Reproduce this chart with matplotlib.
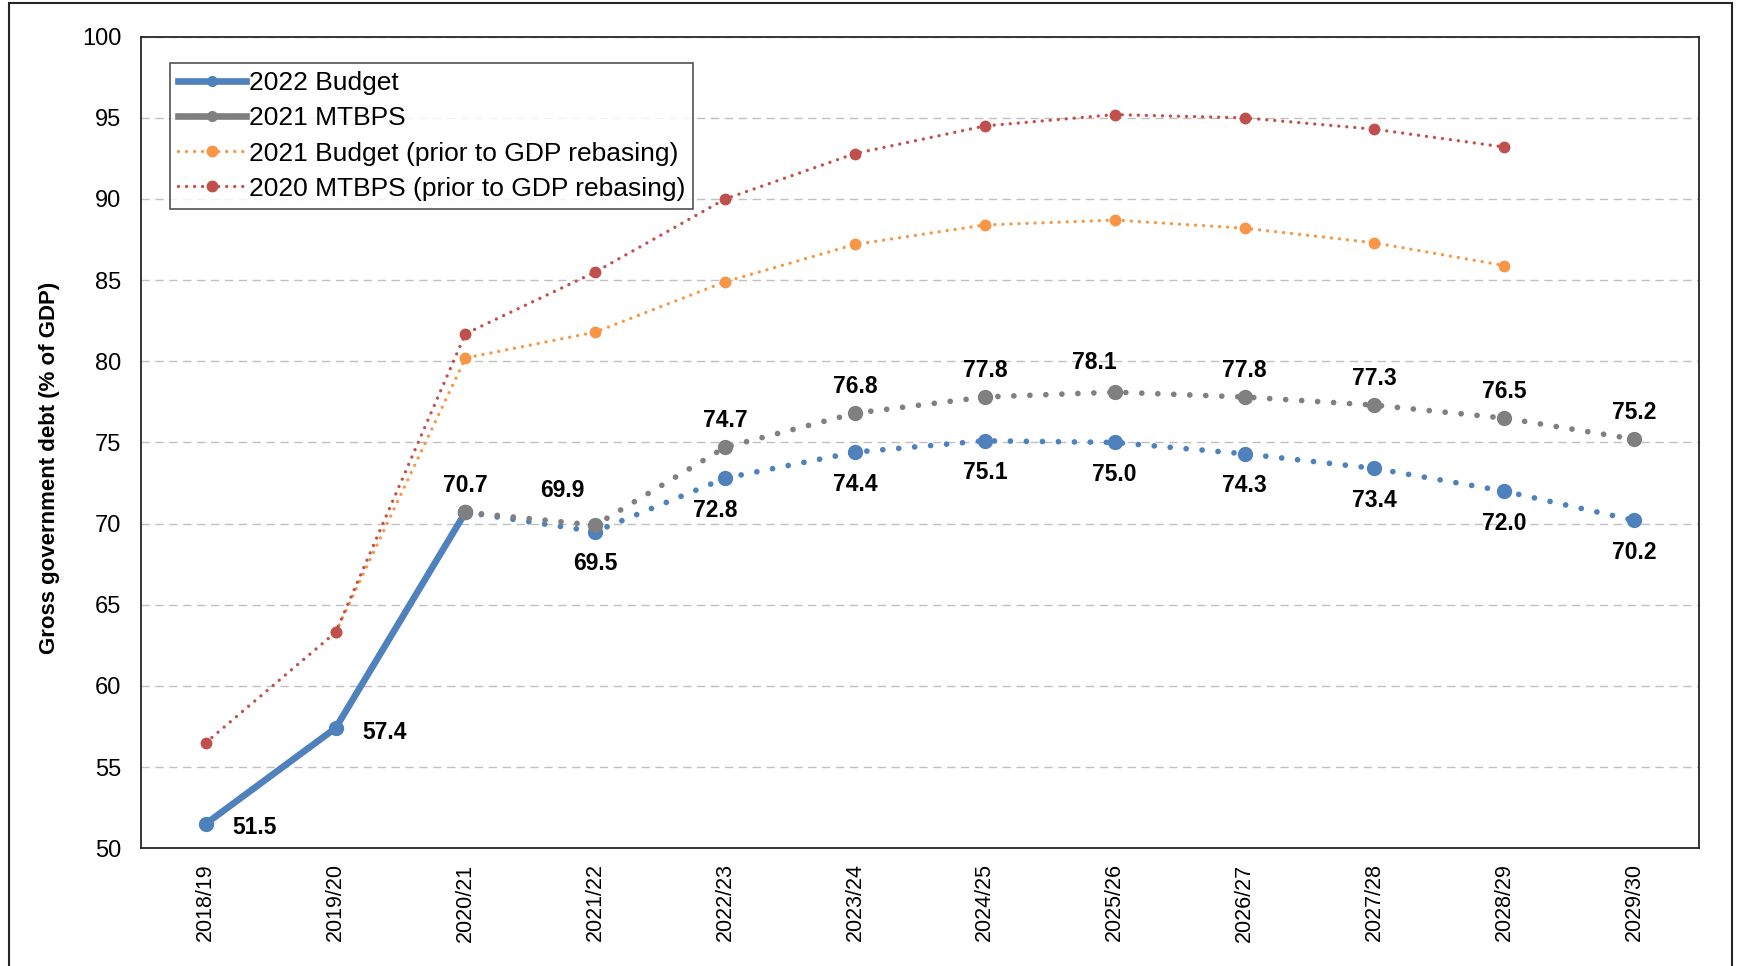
import matplotlib
matplotlib.use("Agg")
import matplotlib.pyplot as plt
from matplotlib.lines import Line2D
from matplotlib.patches import Rectangle
import numpy as np

plt.rcParams["font.family"] = ["Liberation Sans", "DejaVu Sans"]

years = ["2018/19", "2019/20", "2020/21", "2021/22", "2022/23", "2023/24",
         "2024/25", "2025/26", "2026/27", "2027/28", "2028/29", "2029/30"]

budget_2022 = [51.5, 57.4, 70.7, 69.5, 72.8, 74.4, 75.1, 75.0, 74.3, 73.4, 72.0, 70.2]
mtbps_2021 = [np.nan, np.nan, 70.7, 69.9, 74.7, 76.8, 77.8, 78.1, 77.8, 77.3, 76.5, 75.2]
budget_2021 = [np.nan, 63.3, 80.2, 81.8, 84.9, 87.2, 88.4, 88.7, 88.2, 87.3, 85.9, np.nan]
mtbps_2020 = [56.5, 63.3, 81.7, 85.5, 90.0, 92.8, 94.5, 95.2, 95.0, 94.3, 93.2, np.nan]

BLUE = "#4f81bd"
GREY = "#808080"
ORANGE = "#f79646"
RED = "#c0504d"

x = np.arange(len(years))
n_actual = 3  # 2018/19 .. 2020/21 are outcomes, rest projections

fig = plt.figure(figsize=(17.39, 9.66), dpi=100, facecolor="white")
ax = fig.add_axes([0.081, 0.122, 0.896, 0.840])

fine_dots = dict(linestyle=(0, (0.01, 2.4)), dash_capstyle="round", linewidth=2.4)
big_dots = dict(linestyle=(0, (0.01, 2.8)), dash_capstyle="round", linewidth=4.1)

ax.plot(x, budget_2021, color=ORANGE, marker="o", markersize=7.5, zorder=3, **fine_dots)
ax.plot(x, mtbps_2020, color=RED, marker="o", markersize=7.5, zorder=4, **fine_dots)

ax.plot(x[:n_actual], budget_2022[:n_actual], color=BLUE, linewidth=4.8,
        marker="o", markersize=10, solid_capstyle="round", zorder=5)
ax.plot(x[n_actual - 1:], budget_2022[n_actual - 1:], color=BLUE,
        marker="o", markersize=10, zorder=5, **big_dots)
ax.plot(x, mtbps_2021, color=GREY, marker="o", markersize=10, zorder=6, **big_dots)

lbl = dict(textcoords="offset points", ha="center", va="center",
           fontsize=16.5, fontweight="bold", color="black", zorder=7)

# actual outcomes, labelled to the right
for i in range(n_actual - 1):
    ax.annotate(f"{budget_2022[i]:.1f}", (x[i], budget_2022[i]), xytext=(35, -3), **lbl)
ax.annotate(f"{budget_2022[2]:.1f}", (x[2], budget_2022[2]), xytext=(0, 19), **lbl)

# projections: 2022 Budget below, 2021 MTBPS above
for i in range(n_actual, len(years)):
    dx_b = -7 if i == 4 else 0
    ax.annotate(f"{budget_2022[i]:.1f}", (x[i], budget_2022[i]), xytext=(dx_b, -23), **lbl)
    if i == 3:
        off = (-24, 25)
    elif i == 7:
        off = (-15, 21)
    else:
        off = (0, 19)
    ax.annotate(f"{mtbps_2021[i]:.1f}", (x[i], mtbps_2021[i]), xytext=off, **lbl)

ax.set_xlim(-0.5, len(years) - 0.5)
ax.set_ylim(50, 100)
ax.set_yticks(range(50, 101, 5))
ax.set_xticks(x)
ax.set_xticklabels(years, rotation=90)
ax.tick_params(axis="both", length=0, colors="black")
ax.tick_params(axis="y", pad=14, labelsize=17)
ax.tick_params(axis="x", pad=11, labelsize=15.5)
ax.yaxis.grid(True, color="#c0c0c0", linestyle=(0, (6, 4)), linewidth=1)
ax.set_axisbelow(True)
for s in ax.spines.values():
    s.set_color("#262626")
    s.set_linewidth(1.3)

ax.set_ylabel("Gross government debt (% of GDP)", fontsize=16, fontweight="bold")
ax.yaxis.set_label_coords(-0.052, 0.469)

handles = [
    Line2D([], [], color=BLUE, linewidth=4.8, marker="o", markersize=7),
    Line2D([], [], color=GREY, linewidth=4.8, marker="o", markersize=7),
    Line2D([], [], color=ORANGE, marker="o", markersize=7.5, **fine_dots),
    Line2D([], [], color=RED, marker="o", markersize=7.5, **fine_dots),
]
labels = ["2022 Budget", "2021 MTBPS",
          "2021 Budget (prior to GDP rebasing)", "2020 MTBPS (prior to GDP rebasing)"]
leg = ax.legend(handles, labels, loc="upper left", bbox_to_anchor=(0.0185, 0.967),
                fontsize=19, frameon=True, fancybox=False, handlelength=2.6,
                handletextpad=0.1, labelspacing=0.42, borderpad=0.3, borderaxespad=0)
leg.get_frame().set_edgecolor("#262626")
leg.get_frame().set_linewidth(1.2)

# outer border around the chart
fig.patches.append(Rectangle((0.005, -0.05), 0.991, 1.047, transform=fig.transFigure,
                             fill=False, edgecolor="#262626", linewidth=1.5))

fig.savefig("out.png", dpi=100, facecolor="white")
